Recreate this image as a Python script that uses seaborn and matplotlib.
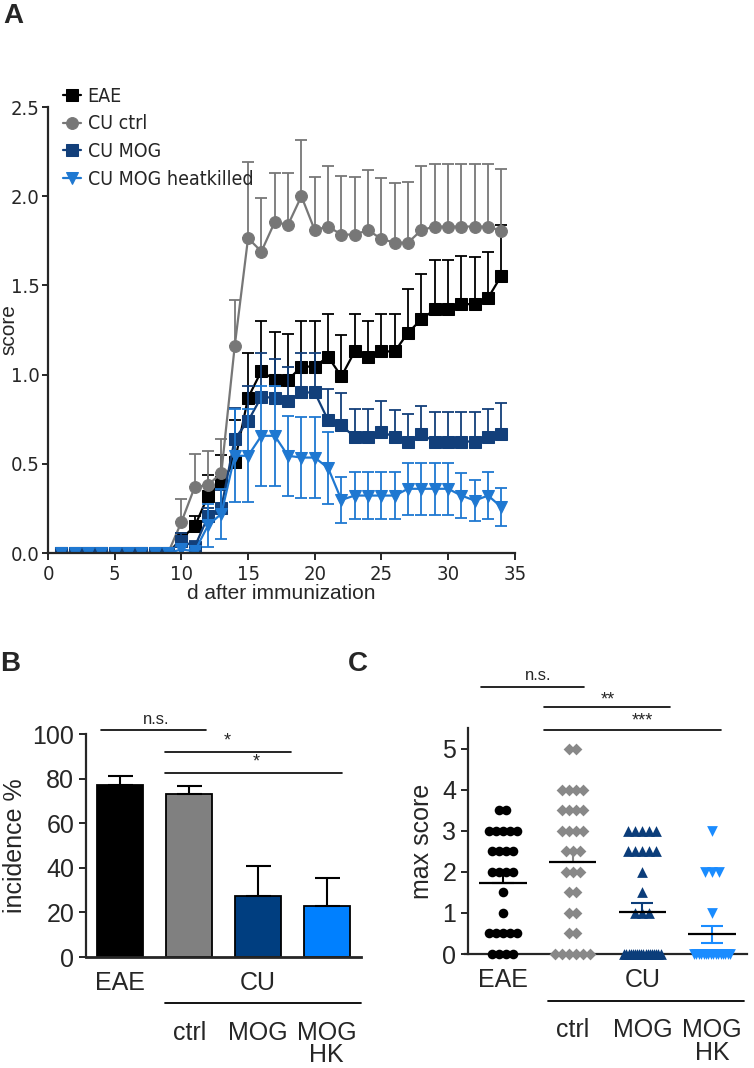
import matplotlib
matplotlib.use("Agg")
import matplotlib.pyplot as plt
import numpy as np
import pandas as pd
import seaborn as sns
from matplotlib import font_manager

# --- Panel A: klinischer Score über die Zeit ---
days = list(range(1, 35))

eae_mean = [0, 0, 0, 0, 0, 0, 0, 0, 0,
            0.08, 0.15, 0.32, 0.40, 0.51, 0.87, 1.02, 0.97, 0.97, 1.045, 1.045,
            1.10, 0.99, 1.13, 1.10, 1.13, 1.13, 1.235, 1.31, 1.365, 1.365,
            1.395, 1.395, 1.43, 1.555]
eae_sem = [0, 0, 0, 0, 0, 0, 0, 0, 0,
           0.03, 0.06, 0.12, 0.15, 0.235, 0.25, 0.28, 0.27, 0.26, 0.255, 0.255,
           0.24, 0.23, 0.21, 0.20, 0.21, 0.21, 0.245, 0.255, 0.28, 0.28,
           0.27, 0.265, 0.26, 0.285]

ctrl_mean = [0, 0, 0, 0, 0, 0, 0, 0, 0,
             0.173, 0.37, 0.38, 0.45, 1.16, 1.765, 1.69, 1.855, 1.84, 2.0, 1.81,
             1.83, 1.785, 1.785, 1.81, 1.76, 1.74, 1.74, 1.81, 1.83, 1.83,
             1.83, 1.83, 1.83, 1.805]
ctrl_sem = [0, 0, 0, 0, 0, 0, 0, 0, 0,
            0.13, 0.185, 0.19, 0.19, 0.26, 0.425, 0.30, 0.275, 0.29, 0.315, 0.295,
            0.34, 0.33, 0.325, 0.335, 0.34, 0.335, 0.34, 0.36, 0.35, 0.35,
            0.35, 0.35, 0.35, 0.35]

mog_mean = [0, 0, 0, 0, 0, 0, 0, 0, 0,
            0.07, 0.035, 0.205, 0.255, 0.64, 0.74, 0.875, 0.87, 0.85, 0.90, 0.90,
            0.745, 0.715, 0.65, 0.65, 0.68, 0.65, 0.625, 0.665, 0.625, 0.625,
            0.625, 0.625, 0.65, 0.665]
mog_sem = [0, 0, 0, 0, 0, 0, 0, 0, 0,
           0.04, 0.03, 0.05, 0.10, 0.175, 0.195, 0.245, 0.22, 0.19, 0.22, 0.22,
           0.175, 0.18, 0.16, 0.16, 0.17, 0.15, 0.155, 0.16, 0.165, 0.165,
           0.165, 0.165, 0.16, 0.175]

hk_mean = [0, 0, 0, 0, 0, 0, 0, 0, 0,
           0.02, 0.01, 0.155, 0.22, 0.545, 0.545, 0.657, 0.657, 0.545, 0.535, 0.535,
           0.477, 0.298, 0.322, 0.322, 0.322, 0.322, 0.36, 0.36, 0.36, 0.36,
           0.322, 0.294, 0.322, 0.257]
hk_sem = [0, 0, 0, 0, 0, 0, 0, 0, 0,
          0.02, 0.01, 0.12, 0.14, 0.26, 0.26, 0.28, 0.28, 0.225, 0.225, 0.225,
          0.2, 0.13, 0.13, 0.13, 0.13, 0.13, 0.145, 0.145, 0.145, 0.145,
          0.125, 0.115, 0.13, 0.105]

# --- Panel B: Inzidenz ---
groups = ["EAE", "CU ctrl", "CU MOG", "CU MOG HK"]
incidence = [77.1, 73.1, 27.4, 22.9]
incidence_sem = [4.1, 3.6, 13.4, 12.5]

# --- Panel C: maximaler Score pro Tier ---
eae_max = [3.5, 3.5, 3, 3, 3, 3, 3, 2.5, 2.5, 2.5, 2.5, 2, 2, 2, 2,
           1.5, 1, 0.5, 0.5, 0.5, 0.5, 0.5, 0, 0, 0, 0]
ctrl_max = [5, 5, 4, 4, 4, 4, 3.5, 3.5, 3.5, 3.5, 3, 3, 3, 3, 2.5, 2.5, 2.5,
            2, 2, 2, 1.5, 1.5, 1, 1, 0.5, 0.5, 0, 0, 0, 0, 0, 0]
mog_max = [3, 3, 3, 3, 3, 2.5, 2.5, 2.5, 2.5, 2.5, 2, 1.5, 1, 1, 1,
           0, 0, 0, 0, 0, 0, 0, 0, 0, 0, 0, 0, 0, 0, 0, 0, 0, 0]
hk_max = [3, 2, 2, 2, 1,
          0, 0, 0, 0, 0, 0, 0, 0, 0, 0, 0, 0, 0, 0, 0, 0]

# Farben
line_colors = ["#000000", "#777777", "#123f7a", "#1f78d1"]
bar_colors = ["#000000", "#808080", "#003e80", "#0080ff"]
dot_colors = ["#000000", "#888888", "#0b3d7a", "#1a8cff"]


def narrow_font(size):
    """Schmale Schrift suchen (Arial Narrow Ersatz), sonst normale."""
    candidates = []
    for f in font_manager.fontManager.ttflist:
        name = f.name.lower()
        if ("narrow" in name or f.stretch in ("condensed", "semi-condensed")) \
                and f.weight in (400, "normal", "regular") and f.style == "normal":
            candidates.append(f)
    # Liberation Sans Narrow bevorzugen (Arial-ähnlich)
    candidates.sort(key=lambda f: 0 if "liberation" in f.name.lower() else 1)
    if candidates:
        return font_manager.FontProperties(fname=candidates[0].fname, size=size)
    return font_manager.FontProperties(family="Liberation Sans", size=size * 0.85)


def row_offsets(values, step=0.1, max_width=0.52):
    """Punkte gleicher Werte nebeneinander legen (wie GraphPad)."""
    values = np.asarray(values, dtype=float)
    offsets = np.zeros(len(values))
    for v in np.unique(values):
        idx = np.where(values == v)[0]
        k = len(idx)
        if k > 1:
            s = min(step, max_width / (k - 1))
            offsets[idx] = (np.arange(k) - (k - 1) / 2) * s
    return offsets


def style_axis(ax):
    sns.despine(ax=ax)
    for side in ["left", "bottom"]:
        ax.spines[side].set_linewidth(1.6)
    ax.tick_params(width=1.4, length=5)


def bracket(ax, x1, x2, y, label, ty, tx, size=12):
    ax.plot([x1, x2], [y, y], color="black", lw=1.2, clip_on=False)
    ax.text(tx, ty, label, ha="center", va="center", fontsize=size, clip_on=False)


def plot_panel_a(ax):
    series = [
        ("EAE", eae_mean, eae_sem, "s", False),
        ("CU ctrl", ctrl_mean, ctrl_sem, "o", False),
        ("CU MOG", mog_mean, mog_sem, "s", False),
        ("CU MOG heatkilled", hk_mean, hk_sem, "v", True),
    ]
    for (name, mean, sem, marker, both), color in zip(series, line_colors):
        mean = np.asarray(mean)
        sem = np.asarray(sem)
        mask = sem > 0
        lower = sem[mask] if both else np.zeros(mask.sum())
        ax.errorbar(np.asarray(days)[mask], mean[mask], yerr=[lower, sem[mask]],
                    fmt="none", ecolor=color, elinewidth=1.3, capsize=4.5, capthick=1.3)
        sns.lineplot(x=days, y=mean, ax=ax, color=color, marker=marker,
                     markersize=8.5, markeredgecolor=color, linewidth=1.6, label=name)

    ax.set_xlim(0, 35)
    ax.set_ylim(0, 2.5)
    ax.set_xticks(range(0, 36, 5))
    ax.set_yticks(np.arange(0, 2.51, 0.5))
    ax.set_yticklabels([f"{v:.1f}" for v in np.arange(0, 2.51, 0.5)])
    tick_fp = narrow_font(14.5)
    for lab in ax.get_xticklabels() + ax.get_yticklabels():
        lab.set_fontproperties(tick_fp)
    ax.set_xlabel("d after immunization", fontsize=15, labelpad=0)
    ax.set_ylabel("score", fontsize=15)
    style_axis(ax)
    ax.tick_params(axis="y", length=4, pad=2)
    # Bezugspunkt ist die Unterkante des gedrehten Textes (rechte Seite)
    ax.yaxis.set_label_coords(-0.064, 0.5)
    leg_fp = narrow_font(14)
    ax.legend(loc="upper left", bbox_to_anchor=(-0.005, 1.085), frameon=False,
              handlelength=0.9, handletextpad=0.35, labelspacing=0.45, prop=leg_fp)


def group_labels(ax, y_top, y_line, y_sub, line_x):
    tr = ax.get_xaxis_transform()
    ax.text(0, y_top, "EAE", transform=tr, ha="center", va="center", fontsize=18, clip_on=False)
    ax.text(2, y_top, "CU", transform=tr, ha="center", va="center", fontsize=18, clip_on=False)
    ax.plot(line_x, [y_line, y_line], transform=tr, color="black", lw=1.3, clip_on=False)
    for x, t in zip([1, 2, 3], ["ctrl", "MOG", "MOG\nHK"]):
        ax.text(x, y_sub, t, transform=tr, ha="center", va="top", fontsize=18,
                linespacing=0.9, clip_on=False)


def plot_panel_b(ax):
    df = pd.DataFrame({"group": groups, "incidence": incidence})
    sns.barplot(data=df, x="group", y="incidence", hue="group", palette=bar_colors,
                saturation=1, width=0.67, edgecolor="black", linewidth=1.3,
                legend=False, ax=ax)
    ax.errorbar(range(len(groups)), incidence, yerr=[np.zeros(len(groups)), incidence_sem],
                fmt="none", ecolor="black", elinewidth=1.5, capsize=9, capthick=1.5)
    ax.set_xlim(-0.5, 3.5)
    ax.set_ylim(0, 100)
    ax.set_yticks(range(0, 101, 20))
    ax.tick_params(axis="y", labelsize=18)
    ax.set_xticks([])
    ax.set_xlabel("")
    ax.set_ylabel("incidence %", fontsize=18, labelpad=4)
    style_axis(ax)
    ax.spines["bottom"].set_linewidth(2.0)

    bracket(ax, -0.28, 1.25, 101.8, "n.s.", 106.5, 0.52, size=12)
    bracket(ax, 0.65, 2.48, 92, "*", 97, 1.55, size=13)
    bracket(ax, 0.65, 3.22, 82.5, "*", 87.5, 1.97, size=13)
    group_labels(ax, -0.117, -0.206, -0.285, [0.65, 3.5])


def plot_panel_c(ax):
    data = [eae_max, ctrl_max, mog_max, hk_max]
    frames = []
    for i, (g, vals) in enumerate(zip(groups, data)):
        frames.append(pd.DataFrame({"group": g, "x": i + row_offsets(vals), "y": vals}))
    df = pd.concat(frames, ignore_index=True)
    sizes = {"EAE": 48, "CU ctrl": 36, "CU MOG": 60, "CU MOG HK": 60}
    markers = {"EAE": "o", "CU ctrl": "D", "CU MOG": "^", "CU MOG HK": "v"}
    for g, c in zip(groups, dot_colors):
        sub = df[df["group"] == g]
        sns.scatterplot(data=sub, x="x", y="y", color=c, marker=markers[g],
                        s=sizes[g], linewidth=0, legend=False, ax=ax, clip_on=False,
                        zorder=3)

    for i, (vals, c) in enumerate(zip(data, dot_colors)):
        vals = np.asarray(vals, dtype=float)
        m = vals.mean()
        sem = vals.std(ddof=1) / np.sqrt(len(vals))
        both = i == 3
        ecol = "black" if i == 0 else c
        ax.errorbar([i], [m], yerr=[[sem if both else 0], [sem]], fmt="none",
                    ecolor=ecol, elinewidth=1.5, capsize=8, capthick=1.5, zorder=4)
        ax.hlines(m, i - 0.34, i + 0.34, color="black", lw=1.6, zorder=5)

    ax.set_xlim(-0.5, 3.5)
    ax.set_ylim(0, 5.5)
    ax.set_yticks(range(0, 6))
    ax.tick_params(axis="y", labelsize=18)
    ax.set_xticks([])
    ax.set_xlabel("")
    ax.set_ylabel("max score", fontsize=18, labelpad=6)
    style_axis(ax)
    ax.spines["bottom"].set_bounds(-0.55, 3.5)

    bracket(ax, -0.31, 1.17, 6.5, "n.s.", 6.78, 0.5, size=12)
    bracket(ax, 0.59, 2.4, 6.0, "**", 6.18, 1.5, size=13)
    bracket(ax, 0.59, 3.13, 5.46, "***", 5.66, 2.0, size=13)
    group_labels(ax, -0.115, -0.208, -0.285, [0.65, 3.45])


def main():
    sns.set_style("ticks")
    plt.rcParams["font.family"] = ["Liberation Sans", "DejaVu Sans"]

    fig = plt.figure(figsize=(7.54, 10.68), dpi=100)
    ax_a = fig.add_axes([0.0637, 0.4822, 0.619, 0.4176])
    ax_b = fig.add_axes([0.114, 0.1039, 0.365, 0.2088])
    ax_c = fig.add_axes([0.6207, 0.1067, 0.370, 0.2117])

    plot_panel_a(ax_a)
    plot_panel_b(ax_b)
    plot_panel_c(ax_c)

    for x, y, t in [(0.004, 0.997, "A"), (0.0, 0.39, "B"), (0.462, 0.39, "C")]:
        fig.text(x, y, t, fontsize=20, fontweight="bold", va="top", ha="left")

    fig.savefig("out.png", dpi=100)
    plt.close(fig)


if __name__ == "__main__":
    main()
